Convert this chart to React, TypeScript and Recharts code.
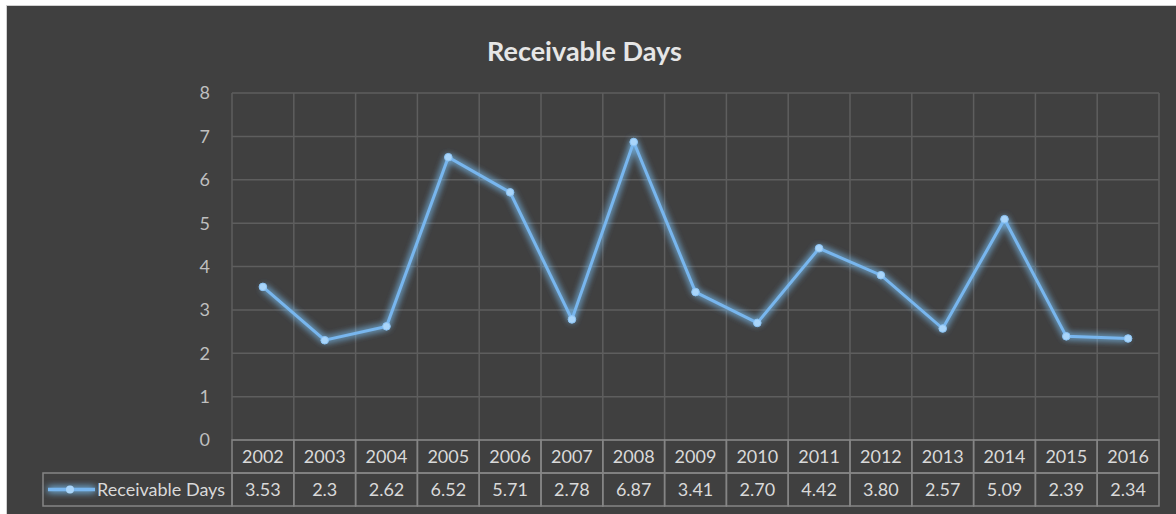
import React from "react";
import { LineChart, Line, XAxis, YAxis, CartesianGrid } from "recharts";

const years = ["2002","2003","2004","2005","2006","2007","2008","2009","2010","2011","2012","2013","2014","2015","2016"];
const values = [3.53, 2.3, 2.62, 6.52, 5.71, 2.78, 6.87, 3.41, 2.7, 4.42, 3.8, 2.57, 5.09, 2.39, 2.34];
const valueLabels = ["3.53","2.3","2.62","6.52","5.71","2.78","6.87","3.41","2.70","4.42","3.80","2.57","5.09","2.39","2.34"];
const yTicks = [0, 1, 2, 3, 4, 5, 6, 7, 8];
const seriesName = "Receivable Days";

const data = years.map((y, i) => ({ idx: i, year: y, value: values[i] }));
const boundaries = years.map((_, i) => i - 0.5).concat([years.length - 0.5]);

const CHART_W = 1169;
const CHART_H = 508;
const MARGIN = { top: 87, right: 17, bottom: 8, left: 0 };
const Y_W = 225;
const X_H = 66;
const PLOT_W = CHART_W - MARGIN.left - MARGIN.right - Y_W;
const CELL_W = PLOT_W / years.length;
const ROW_H = 33;
const LEGEND_W = 189;
const FONT = "Lato, 'Open Sans', sans-serif";
const BORDER = "#858585";
const TEXT = "#d9d9d9";
const LINE = "#78b6ee";
const FS = 18;

const TableTick = (props: any) => {
  const { x, y, index } = props;
  if (index >= years.length) return null;
  const x0 = x;
  const cells = (
    <g>
      <rect x={x0} y={y} width={CELL_W} height={ROW_H} fill="none" stroke={BORDER} strokeWidth={1.5} />
      <rect x={x0} y={y + ROW_H} width={CELL_W} height={ROW_H} fill="none" stroke={BORDER} strokeWidth={1.5} />
      <text x={x0 + CELL_W / 2} y={y + ROW_H / 2 + 6.5} textAnchor="middle" fill={TEXT} fontSize={FS} fontFamily={FONT}>
        {years[index]}
      </text>
      <text x={x0 + CELL_W / 2} y={y + ROW_H * 1.5 + 6.5} textAnchor="middle" fill={TEXT} fontSize={FS} fontFamily={FONT}>
        {valueLabels[index]}
      </text>
    </g>
  );
  if (index === 0) {
    const lx = x0 - LEGEND_W;
    const my = y + ROW_H * 1.5;
    return (
      <g>
        <rect x={lx} y={y + ROW_H} width={LEGEND_W} height={ROW_H} fill="none" stroke={BORDER} strokeWidth={1.5} />
        <line x1={lx + 5} x2={lx + 52} y1={my} y2={my} stroke={LINE} strokeWidth={3.5} filter="url(#glow)" />
        <circle cx={lx + 27} cy={my} r={4} fill="#a9d5fa" />
        <text x={lx + 54} y={my + 6.5} fill={TEXT} fontSize={FS} fontFamily={FONT}>
          {seriesName}
        </text>
        {cells}
      </g>
    );
  }
  return cells;
};

const Dot = (props: any) => {
  const { cx, cy } = props;
  if (cx == null || cy == null) return null;
  return <circle cx={cx} cy={cy} r={3.8} fill="#a9d5fa" stroke="#8cc4f5" strokeWidth={1} />;
};

export default function App() {
  return (
    <div style={{ position: "fixed", left: 0, top: 0, width: 1176, height: 514, background: "#ffffff" }}>
      <div style={{ position: "absolute", left: 6, top: 5, width: 1170, height: 509, background: "#d0d0d0" }} />
      <div style={{ position: "absolute", left: 7, top: 6, width: CHART_W, height: CHART_H, background: "#404040" }}>
        <div
          style={{
            position: "absolute",
            left: 0,
            width: CHART_W,
            top: 29,
            textAlign: "center",
            color: "#e6e6e6",
            fontFamily: FONT,
            fontWeight: 700,
            fontSize: 27,
            lineHeight: "32px",
          }}
        >
          <span style={{ position: "relative", left: -7 }}>Receivable Days</span>
        </div>
        <LineChart width={CHART_W} height={CHART_H} data={data} margin={MARGIN}>
          <defs>
            <filter id="glow" filterUnits="userSpaceOnUse" x={0} y={0} width={CHART_W} height={CHART_H}>
              <feGaussianBlur in="SourceGraphic" stdDeviation="3.5" result="blur" />
              <feColorMatrix in="blur" type="matrix" values="0 0 0 0 0.2  0 0 0 0 0.55  0 0 0 0 0.95  0 0 0 0.9 0" result="glowc" />
              <feMerge>
                <feMergeNode in="glowc" />
                <feMergeNode in="glowc" />
                <feMergeNode in="SourceGraphic" />
              </feMerge>
            </filter>
          </defs>
          <CartesianGrid stroke="#5e5e5e" strokeWidth={1.5} />
          <XAxis
            dataKey="idx"
            type="number"
            domain={[-0.5, years.length - 0.5]}
            ticks={boundaries}
            interval={0}
            height={X_H}
            axisLine={false}
            tickLine={false}
            tickSize={0}
            tickMargin={0}
            tick={<TableTick />}
          />
          <YAxis
            domain={[0, 8]}
            ticks={yTicks}
            width={Y_W}
            axisLine={false}
            tickLine={false}
            tickMargin={16}
            tick={{ fill: "#bfbfbf", fontSize: FS, fontFamily: FONT }}
          />
          <Line
            dataKey="value"
            type="linear"
            stroke={LINE}
            strokeWidth={3}
            dot={<Dot />}
            activeDot={false}
            isAnimationActive={false}
            filter="url(#glow)"
          />
        </LineChart>
      </div>
    </div>
  );
}
